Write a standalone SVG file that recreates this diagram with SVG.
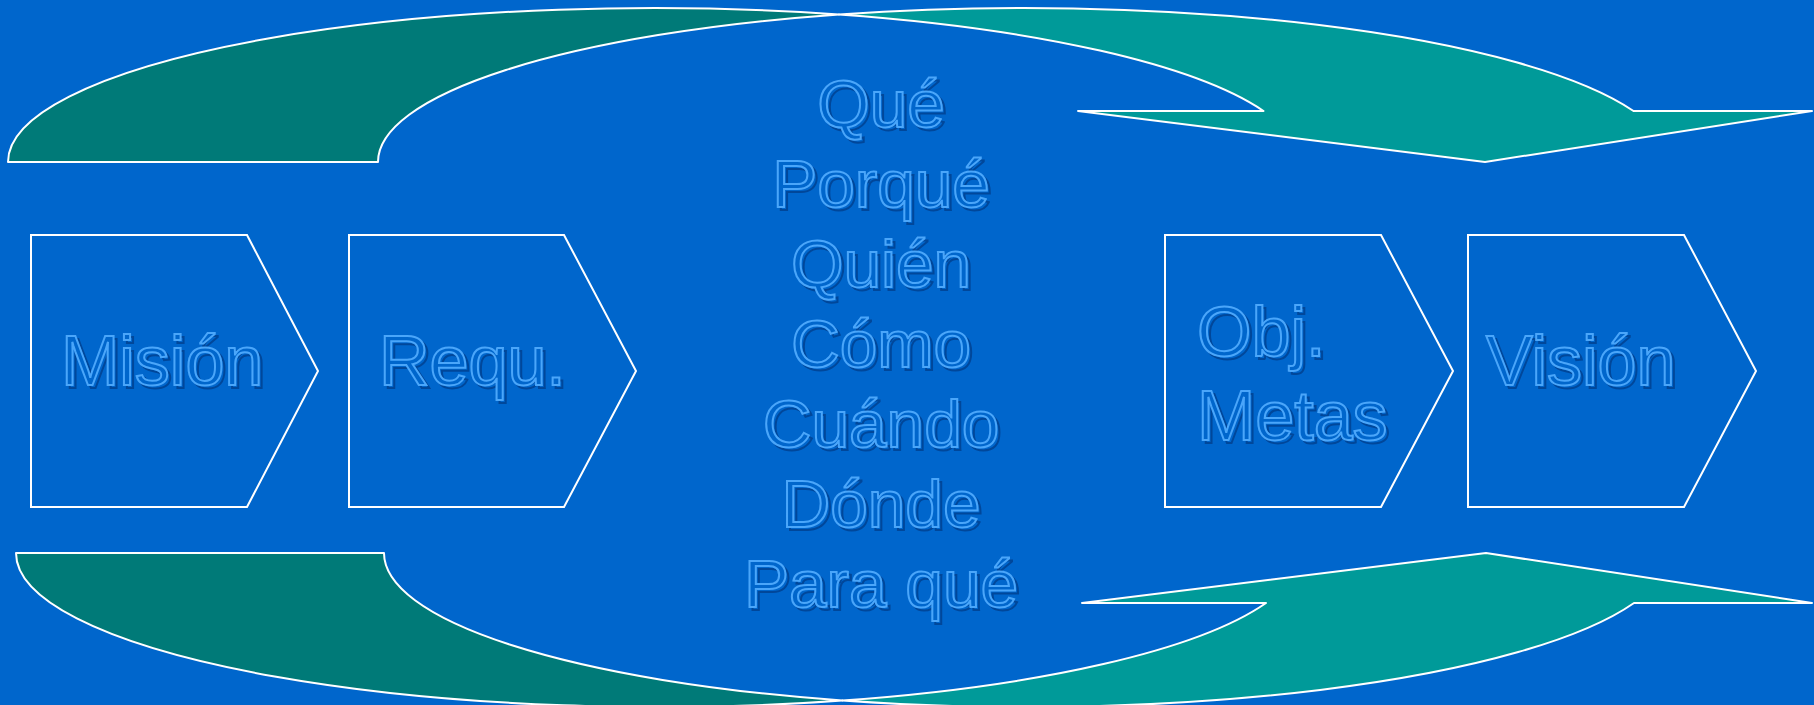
<svg xmlns="http://www.w3.org/2000/svg" width="1814" height="705" viewBox="0 0 1814 705">
  <style>
    .dark { fill: #007a78; stroke: #ffffff; stroke-width: 2; stroke-linejoin: round; }
    .light { fill: #009a99; stroke: #ffffff; stroke-width: 2; stroke-linejoin: round; }
    .box { fill: none; stroke: #ffffff; stroke-width: 2; }
    .t { font-family: "Liberation Sans", Arial, sans-serif; font-size: 70px; }
    .c { font-family: "Liberation Sans", Arial, sans-serif; font-size: 67.5px; text-anchor: middle; }
    .sh { fill: #0066cc; stroke: #00479a; stroke-width: 2; }
    .fg { fill: #0066cc; stroke: #4aa6fa; stroke-width: 2; }
  </style>
  <defs>
    <g id="center-words" class="c">
      <text x="881" y="127">Qué</text>
      <text x="881" y="207">Porqué</text>
      <text x="881" y="287">Quién</text>
      <text x="881" y="367">Cómo</text>
      <text x="881" y="447">Cuándo</text>
      <text x="881" y="527">Dónde</text>
      <text x="881" y="607">Para qué</text>
    </g>
  </defs>
  <rect x="0" y="0" width="1814" height="705" fill="#0066cc"/>

  <g id="connectors">
    <g id="top-arrow">
      <path class="dark" d="M 8,162 A 646 154 0 0 1 839,14.45 A 646 154 0 0 0 378,162 Z"/>
      <path class="light" d="M 839,14.45 A 646 154 0 0 1 1633.5,111 L 1812,111 L 1485,162 L 1078,111 L 1263.5,111 A 646 154 0 0 0 839,14.45 Z"/>
    </g>
    <g id="bottom-arrow">
      <path class="dark" d="M 16,553 A 642.4 154 0 0 0 842.4,700.55 A 642.4 154 0 0 1 384,553 Z"/>
      <path class="light" d="M 842.4,700.55 A 642.4 154 0 0 0 1634,603 L 1812,603 L 1486,553 L 1082,603 L 1266,603 A 642.4 154 0 0 1 842.4,700.55 Z"/>
    </g>
  </g>

  <g id="node-mision">
    <path class="box" d="M 31,235 L 247,235 L 318,371 L 247,507 L 31,507 Z"/>
    <text class="t sh" x="64" y="388">Misión</text>
    <text class="t fg" x="61" y="385">Misión</text>
  </g>
  <g id="node-requ">
    <path class="box" d="M 349,235 L 564,235 L 636,371 L 564,507 L 349,507 Z"/>
    <text class="t sh" x="382" y="388">Requ.</text>
    <text class="t fg" x="379" y="385">Requ.</text>
  </g>
  <g id="node-preguntas">
    <use href="#center-words" class="sh" transform="translate(3,3)"/>
    <use href="#center-words" class="fg"/>
  </g>
  <g id="node-obj">
    <path class="box" d="M 1165,235 L 1381,235 L 1453,371 L 1381,507 L 1165,507 Z"/>
    <text class="t sh" x="1200" y="359">Obj.</text>
    <text class="t sh" x="1200" y="443">Metas</text>
    <text class="t fg" x="1197" y="356">Obj.</text>
    <text class="t fg" x="1197" y="440">Metas</text>
  </g>
  <g id="node-vision">
    <path class="box" d="M 1468,235 L 1684,235 L 1756,371 L 1684,507 L 1468,507 Z"/>
    <text class="t sh" x="1489" y="388">Visión</text>
    <text class="t fg" x="1486" y="385">Visión</text>
  </g>
</svg>
